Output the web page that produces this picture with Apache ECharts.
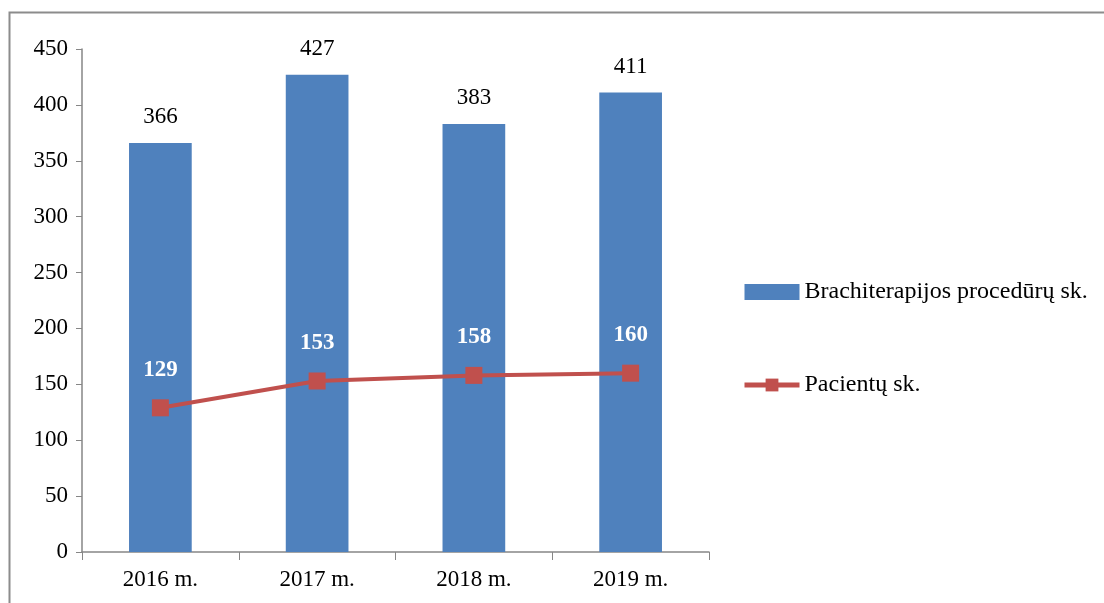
<!DOCTYPE html>
<html>
<head>
<meta charset="utf-8">
<script src="https://cdn.jsdelivr.net/npm/echarts@6/dist/echarts.min.js"></script>
<style>
html,body{margin:0;padding:0;background:#fff;}
#chart{width:1104px;height:603px;}
</style>
</head>
<body>
<div id="chart"></div>
<script>
const categories = ['2016 m.', '2017 m.', '2018 m.', '2019 m.'];
const procedures = [366, 427, 383, 411];
const patients = [129, 153, 158, 160];
const yTicks = {min: 0, max: 450, interval: 50};

const font = 'Liberation Serif';
const chart = echarts.init(document.getElementById('chart'));
chart.setOption({
  animation: false,
  backgroundColor: '#fff',
  graphic: [{
    type: 'rect', left: 7, top: 10, z: 100,
    shape: {width: 1200, height: 700},
    style: {fill: 'none', stroke: '#8c8c8c', lineWidth: 2}
  }],
  grid: {left: 82, right: 395, top: 49, bottom: 51, containLabel: false},
  legend: {
    orient: 'vertical', left: 737, top: 275, itemGap: 69,
    itemWidth: 55, itemHeight: 16,
    textStyle: {fontFamily: font, fontSize: 24, color: '#000'},
    data: [
      {name: 'Brachiterapijos procedūrų sk.', icon: 'rect'},
      {name: 'Pacientų sk.', lineStyle: {width: 5}}
    ]
  },
  xAxis: {
    type: 'category', data: categories,
    axisLine: {lineStyle: {color: '#868686', width: 1.5}},
    axisTick: {show: true, length: 8, lineStyle: {color: '#868686'}},
    axisLabel: {fontFamily: font, fontSize: 23, color: '#000', margin: 16}
  },
  yAxis: {
    type: 'value', min: yTicks.min, max: yTicks.max, interval: yTicks.interval,
    axisLine: {show: true, lineStyle: {color: '#868686', width: 1.5}},
    axisTick: {show: true, length: 6, lineStyle: {color: '#868686'}},
    splitLine: {show: false},
    axisLabel: {fontFamily: font, fontSize: 23, color: '#000', margin: 14}
  },
  series: [{
    name: 'Brachiterapijos procedūrų sk.', type: 'bar', data: procedures,
    barWidth: '40%',
    itemStyle: {color: '#4F81BD'},
    label: {show: true, position: 'top', distance: 14, fontFamily: font, fontSize: 23, color: '#000'}
  }, {
    name: 'Pacientų sk.', type: 'line', data: patients,
    symbol: 'rect', symbolSize: 17,
    lineStyle: {color: '#C0504D', width: 4},
    itemStyle: {color: '#C0504D'},
    label: {show: true, position: 'top', distance: 18, fontFamily: font, fontSize: 23, fontWeight: 'bold', color: '#fff'}
  }]
});
</script>
</body>
</html>
